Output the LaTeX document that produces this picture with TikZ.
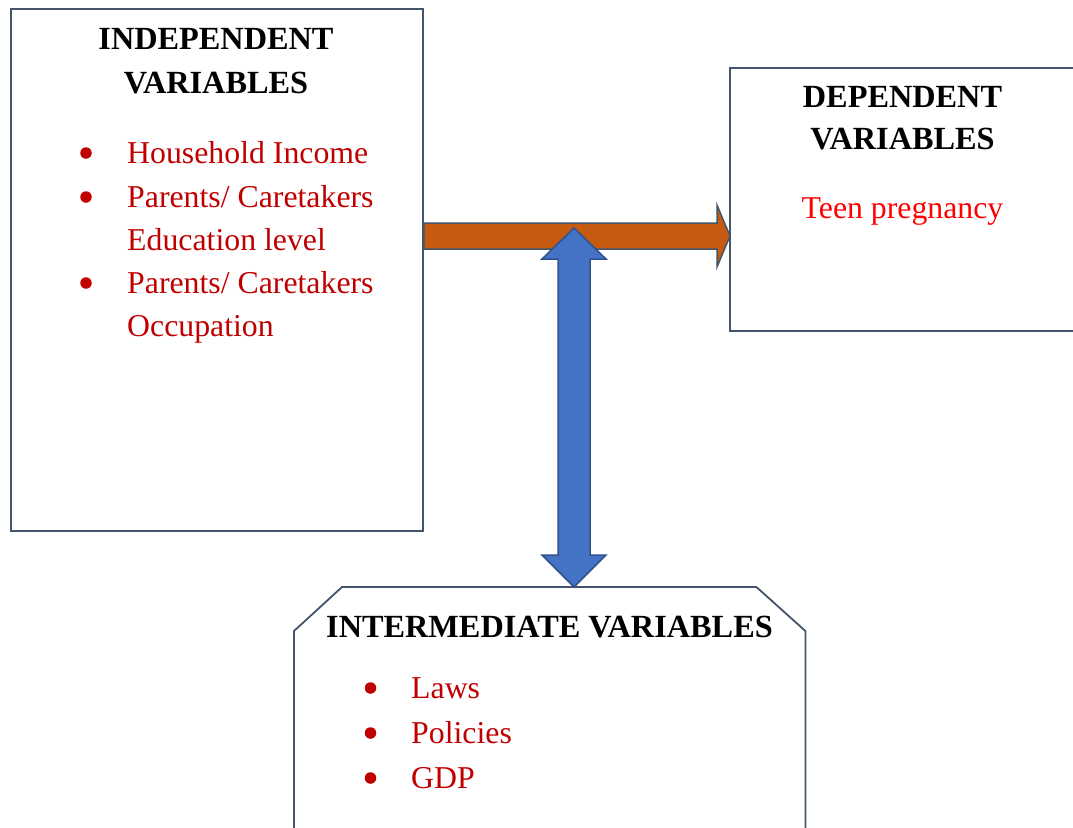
\documentclass[tikz,border=0pt]{standalone}
\usepackage{fontspec}
\setmainfont{Liberation Serif}
\usetikzlibrary{calc}
\definecolor{boxline}{HTML}{44546A}
\definecolor{txtred}{HTML}{C00000}
\definecolor{brightred}{HTML}{FF0000}
\definecolor{orangefill}{HTML}{C55A11}
\definecolor{bluefill}{HTML}{4472C4}
\definecolor{blueline}{HTML}{2F528F}
\begin{document}
\begin{tikzpicture}[x=1pt,y=-1pt,
  box/.style={draw=boxline, line width=1.8pt, fill=white, inner sep=0pt},
  title/.style={font=\fontsize{32.3}{43.5}\selectfont\bfseries, anchor=base, inner sep=0pt},
  item/.style={font=\fontsize{31.8}{43.5}\selectfont, text=txtred, anchor=base west, inner sep=0pt},
  bul/.style={circle, fill=txtred, minimum size=11.5pt, inner sep=0pt},
  orangearrow/.style={fill=orangefill, draw=boxline, line width=1.5pt, line join=miter},
  bluearrow/.style={fill=bluefill, draw=blueline, line width=1.5pt, line join=miter}]
\useasboundingbox (0,0) rectangle (1073,827);

% boxes
\node[box, anchor=north west, minimum width=412pt, minimum height=522pt] (indep) at (10,8) {};
\node[box, anchor=north west, minimum width=370pt, minimum height=263pt] (dep) at (729,67) {};
\node[draw=none, anchor=north west, minimum width=511pt, minimum height=270pt, inner sep=0pt] (inter) at (294,587) {};
\draw[box] (inter.south west) -- ($(inter.north west)+(0,44)$) -- ($(inter.north west)+(48,0)$)
  -- ($(inter.north east)+(-49,0)$) -- ($(inter.north east)+(0,44)$) -- (inter.south east);

% arrow end points
\coordinate (os) at ($(indep.north east)+(0,228)$);
\coordinate (ot) at ($(dep.north west)+(1,169)$);
\coordinate (bt) at (574,228);
\coordinate (bb) at ($(inter.north west)+(280,0)$);

% orange arrow
\draw[orangearrow] ($(os)+(0,-13)$) -- ($(ot)+(-13,-13)$) -- ($(ot)+(-13,-31)$) -- (ot)
  -- ($(ot)+(-13,31)$) -- ($(ot)+(-13,13)$) -- ($(os)+(0,13)$) -- cycle;

% blue double arrow
\draw[bluearrow] (bt) -- ($(bt)+(32,31)$) -- ($(bt)+(16,31)$) -- ($(bb)+(16,-32)$)
  -- ($(bb)+(32,-32)$) -- (bb) -- ($(bb)+(-32,-32)$) -- ($(bb)+(-16,-32)$)
  -- ($(bt)+(-16,31)$) -- ($(bt)+(-32,31)$) -- cycle;

% independent texts
\node[title] (it1) at (216,49) {INDEPENDENT};
\node[title] (it2) at (216,93) {VARIABLES};
\node[bul] (ib1) at (86,153) {};
\node[bul] (ib2) at (86,197) {};
\node[bul] (ib3) at (86,283) {};
\node[item] (ii1) at (127,163) {Household Income};
\node[item] (ii2) at (127,207) {Parents/ Caretakers};
\node[item] (ii3) at (127,250) {Education level};
\node[item] (ii4) at (127,293) {Parents/ Caretakers};
\node[item] (ii5) at (127,336) {Occupation};

% dependent texts
\node[title] (dt1) at (902.5,107) {DEPENDENT};
\node[title] (dt2) at (902.5,149) {VARIABLES};
\node[title, font=\fontsize{31.8}{43.5}\selectfont, text=brightred] (dt3) at (902.5,218) {Teen pregnancy};

% intermediate texts
\node[title] (mt1) at (549.5,637) {INTERMEDIATE VARIABLES};
\node[bul] (mb1) at (370.5,688) {};
\node[bul] (mb2) at (370.5,733) {};
\node[bul] (mb3) at (370.5,778) {};
\node[item] (mi1) at (411,698) {Laws};
\node[item] (mi2) at (411,743) {Policies};
\node[item] (mi3) at (411,788) {GDP};
\end{tikzpicture}
\end{document}
